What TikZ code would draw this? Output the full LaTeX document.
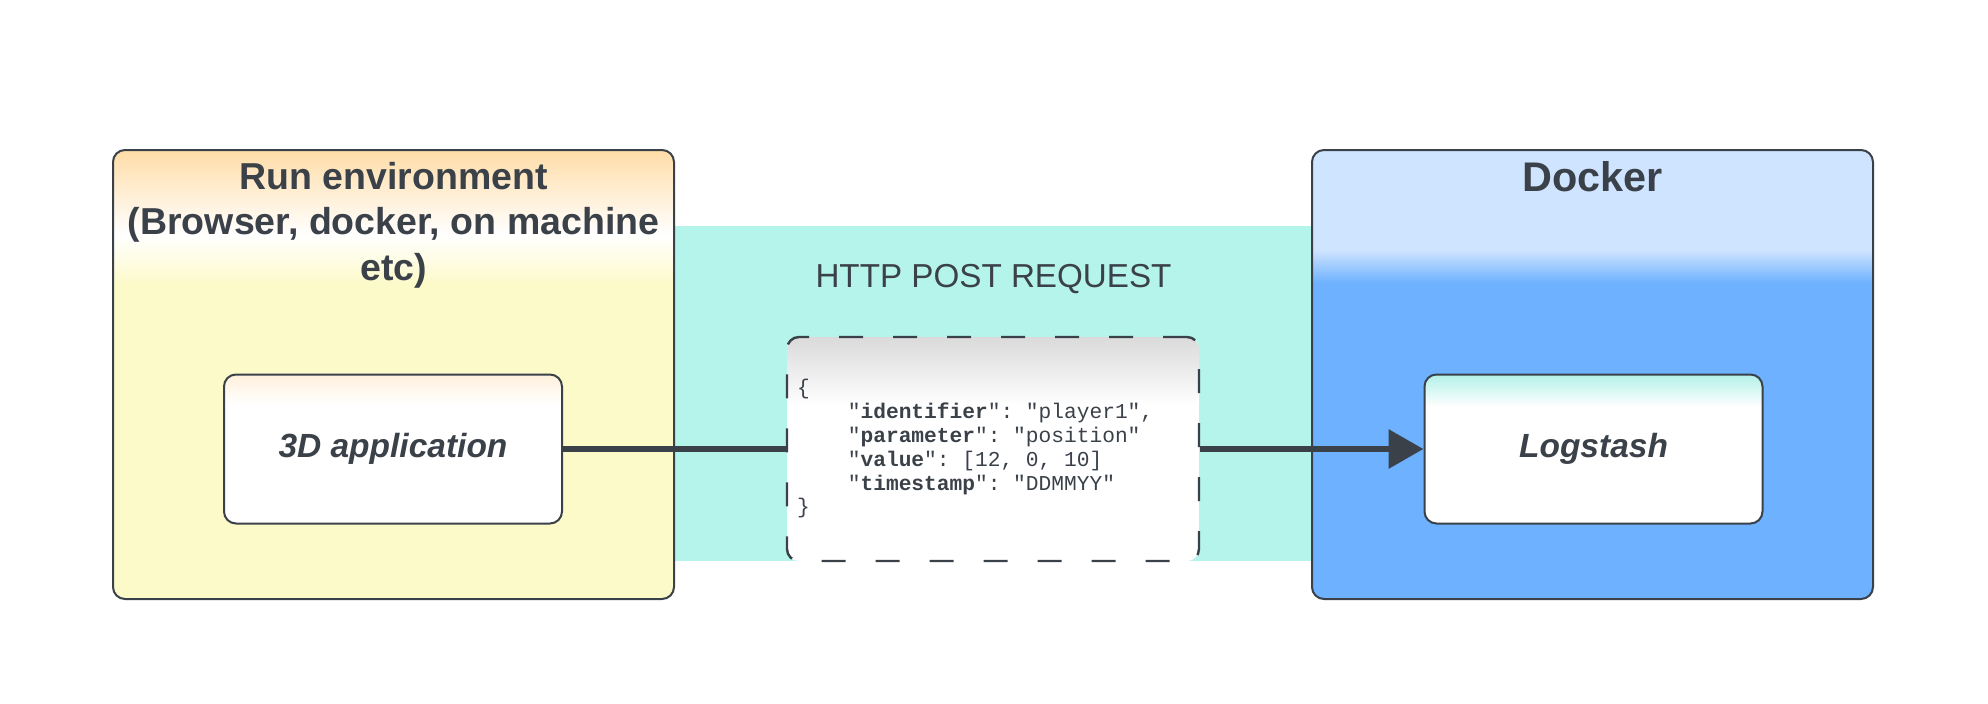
\documentclass[tikz,border=0pt]{standalone}
\usepackage{fontspec}
\setmainfont{Liberation Sans}
\setmonofont{Liberation Mono}
\usetikzlibrary{arrows.meta, positioning}
\definecolor{inkgray}{RGB}{59,65,73}
\definecolor{bandteal}{RGB}{181,244,234}
\definecolor{envorange}{RGB}{255,221,168}
\definecolor{envyellow}{RGB}{252,250,200}
\definecolor{dockerlight}{RGB}{207,228,255}
\definecolor{dockerblue}{RGB}{109,177,255}
\definecolor{apporange}{RGB}{255,240,219}
\definecolor{logteal}{RGB}{179,241,233}
\definecolor{jsongray}{RGB}{218,218,218}
\newcommand{\jsonspacing}{\spaceskip=0.6em\relax\xspaceskip=0.6em\relax}

\begin{document}
\begin{tikzpicture}[x=0.5pt, y=-0.5pt,
    every node/.style={text=inkgray},
    panel/.style={draw=inkgray, line width=1pt, rounded corners=6pt, inner sep=0pt,
        minimum width=280.5pt, minimum height=224.5pt},
    service/.style={draw=inkgray, line width=1pt, rounded corners=6pt, inner sep=0pt,
        minimum width=169pt, minimum height=74.5pt,
        font=\fontsize{16.75}{20}\selectfont\bfseries\itshape},
    payload/.style={draw=inkgray, line width=1.2pt, dash pattern=on 12pt off 15pt,
        rounded corners=6pt, inner xsep=5pt, inner ysep=0pt, text width=196pt,
        minimum height=112pt, align=left,
        font=\ttfamily\fontsize{10.6}{11.9}\selectfont},
    heading/.style={font=\fontsize{18.75}{22.8}\selectfont\bfseries, align=center},
    fade/.style n args={4}{path picture={
        \fill[#2, sharp corners] (path picture bounding box.south west) rectangle (path picture bounding box.north east);
        \fill[#1, sharp corners] (path picture bounding box.north west) rectangle ([yshift=-#3]path picture bounding box.north east);
        \shade[top color=#1, bottom color=#2, sharp corners] ([yshift=-#3]path picture bounding box.north west) rectangle ([yshift=-#3-#4]path picture bounding box.north east);
    }},
    link/.style={draw=inkgray, line width=3.2pt},
]
    \useasboundingbox (0,0) rectangle (1988,703);
    \fill[white] (0,0) rectangle (1988,703);

    % Request band
    \fill[bandteal] (674,226) rectangle (1312,561);

    % Run environment
    \node[panel, path picture={
        \fill[envyellow, sharp corners] (path picture bounding box.south west) rectangle (path picture bounding box.north east);
        \shade[top color=envorange, bottom color=white, sharp corners] (path picture bounding box.north west) rectangle ([yshift=-42.5pt]path picture bounding box.north east);
        \shade[top color=white, bottom color=envyellow, sharp corners] ([yshift=-42.5pt]path picture bounding box.north west) rectangle ([yshift=-67.5pt]path picture bounding box.north east);
    }] (env) at (393.5,374.5) {};
    \node[heading] (envtitle) at (393.5,225) {Run environment\\(Browser, docker, on machine\\etc)};

    % Docker
    \node[panel, fade={dockerlight}{dockerblue}{50pt}{16.5pt}] (docker) at (1592.5,374.5) {};
    \node[heading, font=\fontsize{20.7}{24}\selectfont\bfseries] (dockertitle) at (1592.5,177) {Docker};

    % Payload
    \node[font=\fontsize{16.6}{20}\selectfont] (reqtitle) at (993.5,279) {HTTP POST REQUEST};
    \node[payload, fade={jsongray}{white}{0pt}{34pt}] (json) at (993,449) {\jsonspacing\{\\
        \hspace*{2.4em}"\textbf{identifier}": "player1",\\
        \hspace*{2.4em}"\textbf{parameter}": "position"\\
        \hspace*{2.4em}"\textbf{value}": [12, 0, 10]\\
        \hspace*{2.4em}"\textbf{timestamp}": "DDMMYY"\\
        \}};

    % Services
    \node[service, fade={apporange}{white}{0pt}{15pt}] (app) at (393,449) {3D application};
    \node[service, fade={logteal}{white}{0pt}{16pt}] (logstash) at (1593.5,449) {Logstash};

    \draw[link] (app) -- (json);
    \draw[link, -{Triangle[length=17.5pt, width=19pt]}] (json) -- (logstash);
\end{tikzpicture}
\end{document}
